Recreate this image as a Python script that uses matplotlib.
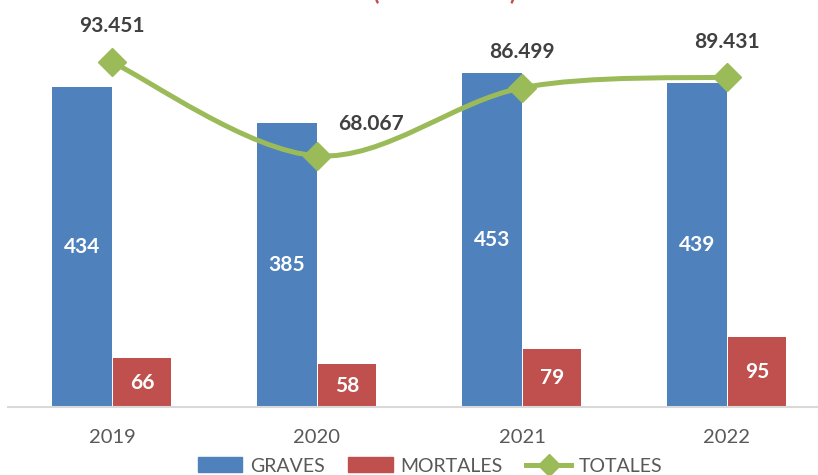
import matplotlib.pyplot as plt
from matplotlib.path import Path
from matplotlib.patches import PathPatch, Patch
from matplotlib.lines import Line2D
import numpy as np

years = ["2019", "2020", "2021", "2022"]
graves = [434, 385, 453, 439]
mortales = [66, 58, 79, 95]
totales = [93451, 68067, 86499, 89431]
total_labels = ["93.451", "68.067", "86.499", "89.431"]

BLUE = "#4F81BD"
RED = "#C0504D"
GREEN = "#9BBB59"

plt.rcParams["font.family"] = ["Lato", "DejaVu Sans"]

fig = plt.figure(figsize=(8.18, 4.75), dpi=100)
ax = fig.add_axes([8 / 818, 68 / 475, 810 / 818, 407 / 475])
ax2 = ax.twinx()

x = np.arange(len(years))
w = 60 / 205
ax.bar(x - w / 2, graves, w, color=BLUE, label="GRAVES", zorder=2)
ax.bar(x + w / 2, mortales, w * 0.97, color=RED, label="MORTALES", zorder=2)

for i in range(len(years)):
    ax.text(x[i] - w / 2, graves[i] / 2, str(graves[i]), ha="center", va="center",
            color="white", fontsize=15, fontweight="bold", zorder=3)
    ax.text(x[i] + w / 2, mortales[i] / 2, str(mortales[i]), ha="center", va="center",
            color="white", fontsize=15, fontweight="bold", zorder=3)

ax.set_xlim((8 - 112) / 205, (818 - 112) / 205)
ax.set_ylim(0, 552)
ax2.set_ylim(0, 110300)

# smoothed line (Excel style) built as bezier path through the data points
pts = np.column_stack([x, totales]).astype(float)
ext = np.vstack([pts[0], pts, pts[-1]])
verts = [tuple(pts[0])]
codes = [Path.MOVETO]
for i in range(len(pts) - 1):
    p0, p1, p2, p3 = ext[i], ext[i + 1], ext[i + 2], ext[i + 3]
    c1 = p1 + (p2 - p0) / 6
    c2 = p2 - (p3 - p1) / 6
    verts += [tuple(c1), tuple(c2), tuple(p2)]
    codes += [Path.CURVE4] * 3
ax2.add_patch(PathPatch(Path(verts, codes), fill=False, edgecolor=GREEN, lw=3.6,
                        capstyle="round", zorder=4))
ax2.plot(x, totales, linestyle="none", marker="D", markersize=14, color=GREEN, zorder=5)

offsets = [(0, 26), (39, 23), (0, 26), (0, 25)]
for i in range(len(years)):
    ax2.annotate(total_labels[i], (x[i], totales[i]), xytext=offsets[i],
                 textcoords="offset points", ha="center", va="center",
                 fontsize=15, fontweight="bold", color="#404040", zorder=6)

for a in (ax, ax2):
    for s in ("top", "right", "left"):
        a.spines[s].set_visible(False)
    a.set_yticks([])
ax.spines["bottom"].set_color("#D9D9D9")
ax.spines["bottom"].set_linewidth(1.5)
ax2.spines["bottom"].set_visible(False)
ax.set_xticks(x)
ax.set_xticklabels(years)
ax.tick_params(axis="x", length=0, pad=16, labelsize=14.5, labelcolor="#595959")

# title, cut off at the top edge like in the source image
fig.text(445 / 818, 1.017, "(2019 - 2022)", ha="center", va="center",
         color=RED, fontsize=17, fontweight="bold")

handles = [Patch(color=BLUE), Patch(color=RED),
           Line2D([], [], color=GREEN, lw=3.6, marker="D", markersize=11)]
fig.legend(handles, ["GRAVES", "MORTALES", "TOTALES"], loc="center",
           bbox_to_anchor=(430 / 818, 1 - 466 / 475), ncol=3, frameon=False,
           fontsize=14, labelcolor="#595959", handlelength=2.3, handleheight=0.8,
           columnspacing=1.2, handletextpad=0.4, borderpad=0.2)

fig.savefig("out.png", dpi=100)
